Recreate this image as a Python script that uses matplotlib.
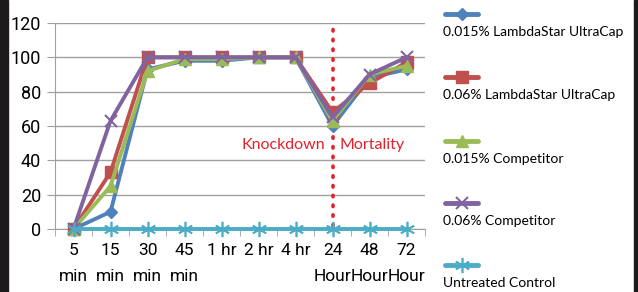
import numpy as np
import matplotlib
matplotlib.use("Agg")
import matplotlib.pyplot as plt
from matplotlib.lines import Line2D
from matplotlib.patches import Rectangle
from matplotlib import font_manager

# chart data
categories = ["5\nmin", "15\nmin", "30\nmin", "45\nmin", "1 hr", "2 hr", "4 hr",
              "24\nHour", "48\nHour", "72\nHour"]
blue_ls015 = [0, 10, 93, 98, 98, 100, 100, 60, 88, 93]
red_ls06 = [0, 33, 100, 100, 100, 100, 100, 68, 85, 97]
green_comp015 = [0, 25, 92, 99, 99, 100, 100, 63, 90, 95]
purple_comp06 = [0, 63, 100, 100, 100, 100, 100, 65, 90, 100]
cyan_control = [0, 0, 0, 0, 0, 0, 0, 0, 0, 0]
series_names = ["0.015% LambdaStar UltraCap", "0.06% LambdaStar UltraCap",
                "0.015% Competitor", "0.06% Competitor", "Untreated Control"]
yticks = [0, 20, 40, 60, 80, 100, 120]

colors = ["#4F81BD", "#C0504D", "#9BBB59", "#8064A2", "#4BACC6"]
markers = ["D", "s", "^", "x", (6, 2, 0)]
msizes = [6, 9, 9, 9, 11]
mews = [1, 1, 1, 1.5, 1.2]

installed = {f.name for f in font_manager.fontManager.ttflist}
tick_font = "Liberation Sans Narrow" if "Liberation Sans Narrow" in installed else "Roboto"

W, H = 638, 292
fig = plt.figure(figsize=(W / 100, H / 100), dpi=100)
fig.patch.set_facecolor("white")
ax = fig.add_axes([55 / W, 63 / H, 370 / W, 206 / H])

x = np.arange(len(categories))
all_series = [blue_ls015, red_ls06, green_comp015, purple_comp06, cyan_control]
for i, ys in enumerate(all_series):
    ax.plot(x, ys, color=colors[i], lw=2.8, marker=markers[i], ms=msizes[i],
            mec=colors[i], mfc=colors[i], mew=mews[i], clip_on=False, zorder=3 + i)

ax.set_xlim(-0.5, len(categories) - 0.5)
ax.set_ylim(0, 120)
ax.set_yticks(yticks)
ax.set_yticklabels([str(t) for t in yticks], family=tick_font, fontsize=13)
ax.yaxis.grid(True, color="#A0A0A0", lw=1)
ax.set_axisbelow(True)
for s in ["top", "right"]:
    ax.spines[s].set_visible(False)
ax.spines["left"].set_color("#A0A0A0")
ax.spines["bottom"].set_color("#A0A0A0")
ax.tick_params(axis="y", colors="#A0A0A0", length=6, labelcolor="black", pad=4)
ax.set_xticks(x)
ax.set_xticklabels(categories, linespacing=1.95, family=tick_font, fontsize=12.5)
ax.set_xticks(np.arange(-0.5, len(categories)), minor=True)
ax.tick_params(axis="x", which="major", length=0, pad=10)
ax.tick_params(axis="x", which="minor", length=5, color="#A0A0A0")
for lbl in ax.get_xticklabels():
    lbl.set_verticalalignment("top")

# knockdown / mortality divider
ax.plot([7, 7], [2, 120], color="#E2212B", lw=2.6, ls=(0, (0.4, 2.3)),
        dash_capstyle="round", zorder=2, clip_on=False)
ax.text(6.8, 49, "Knockdown", color="#E2212B", fontsize=11.5, ha="right",
        va="center", family="Lato")
ax.text(7.2, 49, "Mortality", color="#E2212B", fontsize=11.5, ha="left",
        va="center", family="Lato")

# legend, markers stacked above labels
leg_y = [14, 77, 141, 203, 265]
for i, name in enumerate(series_names):
    yk = 1 - leg_y[i] / H
    fig.add_artist(Line2D([445 / W, 478 / W], [yk, yk], color=colors[i], lw=3.5,
                          solid_capstyle="round"))
    fig.add_artist(Line2D([461.5 / W], [yk], color=colors[i], marker=markers[i],
                          ms=msizes[i], mec=colors[i], mfc=colors[i], mew=mews[i]))
    fig.text(443 / W, 1 - (leg_y[i] + 18) / H, name, fontsize=10, family="Lato",
             va="center", ha="left")

# dark side strips
fig.add_artist(Rectangle((0, 0), 8 / W, 1, transform=fig.transFigure,
                         color="#1c1a1a", zorder=10))
fig.add_artist(Rectangle((634 / W, 0), 4 / W, 1, transform=fig.transFigure,
                         color="#1c1a1a", zorder=10))

fig.savefig("out.png", dpi=100, facecolor="white")
